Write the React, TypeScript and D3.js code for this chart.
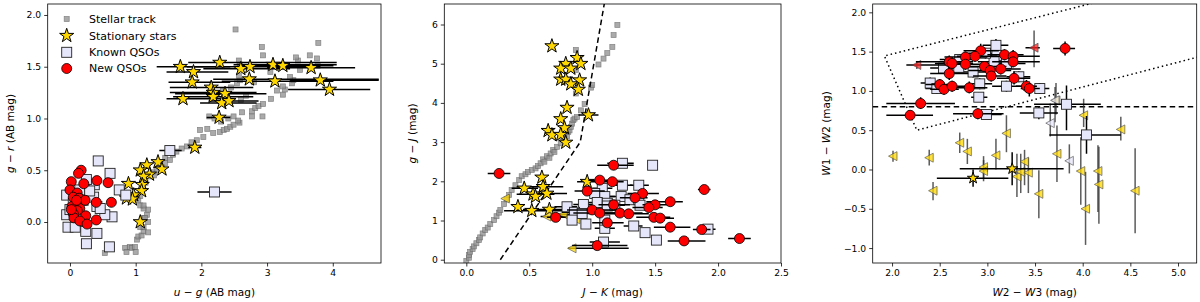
import React, { useEffect, useRef } from 'react';
import * as d3 from 'd3';

// ---- panel 1: u-g vs g-r ----
const track1 = [
  [0.53, -0.30], [0.84, -0.25], [0.86, -0.29], [0.91, -0.24], [0.94, -0.25], [0.99, -0.24], [1.0, -0.29],
  [1.02, -0.17], [1.04, -0.14], [1.09, -0.13], [1.12, -0.09], [1.19, -0.10], [1.07, -0.05], [1.12, -0.05],
  [1.19, 0.00], [1.12, 0.04], [1.17, 0.07], [1.14, 0.04], [1.19, 0.12], [1.12, 0.13], [1.07, 0.16],
  [1.04, 0.21], [1.12, 0.16], [1.07, 0.25], [1.10, 0.30], [1.15, 0.38], [1.20, 0.44], [1.26, 0.48],
  [1.28, 0.45], [1.32, 0.50], [1.35, 0.55], [1.40, 0.53], [1.45, 0.57], [1.45, 0.62], [1.52, 0.60],
  [1.57, 0.65], [1.62, 0.68], [1.70, 0.71], [1.78, 0.73], [1.85, 0.77], [1.93, 0.79], [2.03, 0.82],
  [1.98, 0.89], [2.09, 0.90], [2.18, 0.86], [2.28, 0.87], [2.34, 0.89], [2.39, 0.90], [2.44, 0.92],
  [2.49, 0.94], [2.58, 0.96], [2.56, 0.98], [2.41, 1.00], [2.12, 1.02], [2.20, 1.00], [2.30, 0.97],
  [2.49, 1.02], [2.62, 1.06], [2.77, 1.02], [2.93, 1.02], [2.77, 1.07], [2.82, 1.10], [2.87, 1.12],
  [2.94, 1.14], [2.60, 1.18], [2.68, 1.22], [3.06, 1.19], [3.24, 1.23], [3.15, 1.27], [3.27, 1.28],
  [3.24, 1.31], [2.33, 1.27], [2.45, 1.30], [2.54, 1.34], [2.59, 1.37], [2.57, 1.41], [2.80, 1.35],
  [3.38, 1.34], [3.40, 1.37], [3.35, 1.40], [3.05, 1.45], [3.50, 1.47], [3.77, 1.51], [2.59, 1.52],
  [2.57, 1.56], [3.47, 1.56], [3.44, 1.59], [3.76, 1.58], [3.65, 1.61], [2.94, 1.61], [2.92, 1.69],
  [3.78, 1.73], [2.52, 1.86],
];
const stars1 = [
  [1.68, 1.50, 1.32, 2.44], [2.28, 1.54, 1.80, 4.06], [1.88, 1.45, 1.47, 2.41], [2.60, 1.48, 2.03, 3.35],
  [2.74, 1.50, 1.78, 3.81], [3.09, 1.52, 2.49, 4.06], [3.24, 1.51, 2.59, 4.01], [3.67, 1.49, 3.00, 4.34],
  [1.86, 1.35, 1.50, 2.44], [2.73, 1.38, 2.18, 4.70], [3.12, 1.36, 2.31, 4.01], [3.81, 1.37, 3.35, 4.70],
  [3.95, 1.28, 3.32, 4.57], [2.15, 1.30, 1.52, 2.79], [2.18, 1.25, 1.52, 2.84], [2.36, 1.24, 1.60, 2.99],
  [2.18, 1.21, 1.57, 2.79], [1.72, 1.19, 1.47, 2.49], [2.31, 1.15, 1.98, 2.84], [2.42, 1.17, 2.11, 2.87],
  [2.27, 1.01, 2.08, 2.44], [1.90, 0.72, 1.80, 2.00],
  [1.34, 0.58], [1.17, 0.55], [1.07, 0.50], [1.40, 0.51], [1.21, 0.46], [1.12, 0.44], [0.89, 0.37],
  [1.10, 0.36], [1.09, 0.30], [0.97, 0.26], [0.86, 0.23], [0.95, 0.22], [1.07, 0.00],
];
const known1 = [
  [1.52, 0.69, 1.36, 1.70], [2.20, 0.29, 1.94, 2.46], [0.43, 0.59], [0.61, 0.47], [0.75, 0.31], [0.85, 0.26],
  [0.37, 0.36], [0.25, 0.41], [-0.05, 0.26], [-0.05, 0.07], [-0.03, -0.05], [0.08, -0.05], [0.24, -0.09],
  [0.25, -0.21], [0.41, -0.11], [0.60, -0.24], [0.64, 0.05], [0.53, 0.07], [0.05, 0.18], [0.10, 0.08],
  [0.36, 0.24], [0.41, 0.15], [0.15, 0.31], [0.20, 0.21], [0.46, 0.13], [0.0, 0.12], [0.30, 0.30],
];
const new1 = [
  [0.17, 0.50], [0.13, 0.47], [0.02, 0.39], [0.21, 0.37], [0.41, 0.40], [0.58, 0.38], [0.0, 0.31],
  [0.11, 0.28], [0.05, 0.24], [0.14, 0.23], [0.23, 0.21], [0.40, 0.19], [0.63, 0.19], [0.10, 0.18],
  [0.03, 0.15], [0.15, 0.13], [0.11, 0.11], [0.05, 0.08], [0.24, 0.06], [0.06, 0.04], [0.15, 0.01],
  [0.26, -0.02], [0.40, 0.02], [0.02, 0.12], [0.10, 0.21],
];

// ---- panel 2: J-K vs g-J ----
const track2 = [
  [0.0, -0.03], [0.02, 0.05], [0.02, 0.12], [0.03, 0.2], [0.05, 0.27], [0.06, 0.34], [0.08, 0.42], [0.10, 0.50],
  [0.11, 0.57], [0.13, 0.67], [0.15, 0.76], [0.17, 0.82], [0.19, 0.91], [0.22, 1.01], [0.24, 1.11], [0.26, 1.2],
  [0.27, 1.27], [0.30, 1.42], [0.32, 1.54], [0.34, 1.65], [0.36, 1.78], [0.39, 1.90], [0.42, 2.03], [0.44, 2.13],
  [0.47, 2.18], [0.49, 2.24], [0.52, 2.29], [0.55, 2.33], [0.57, 2.39], [0.59, 2.46], [0.61, 2.56], [0.62, 2.5],
  [0.64, 2.64], [0.66, 2.6], [0.67, 2.71], [0.69, 2.80], [0.70, 2.75], [0.72, 2.88], [0.75, 2.97], [0.77, 3.07],
  [0.78, 3.1], [0.80, 3.15], [0.81, 3.26], [0.82, 3.3], [0.83, 3.39], [0.84, 3.47], [0.85, 3.56], [0.86, 3.6],
  [0.88, 3.64], [0.91, 3.81], [0.94, 3.97], [0.87, 4.24], [0.99, 4.39], [1.0, 4.46], [0.87, 4.84], [1.05, 4.98],
  [1.09, 5.13], [0.87, 5.35], [1.12, 5.27], [1.16, 5.43], [1.17, 5.73], [1.20, 5.99],
];
const cut2 = [[0.27, 0], [0.905, 3.0], [1.10, 6.6]];
const stars2 = [
  [0.68, 5.45], [0.88, 5.15], [0.91, 5.00], [0.79, 5.00], [0.75, 4.88], [0.83, 4.88], [0.75, 4.60], [0.79, 4.60],
  [0.90, 4.58], [0.83, 4.48], [0.89, 4.34], [0.80, 3.88], [0.97, 3.69, 0.89, 1.05], [0.75, 3.59], [0.78, 3.36],
  [0.65, 3.29], [0.68, 3.18], [0.75, 3.19], [0.79, 2.99], [0.60, 2.10], [0.46, 1.82, 0.36, 0.57],
  [0.61, 1.86, 0.40, 0.77], [0.53, 1.67, 0.40, 0.70], [0.55, 1.61], [0.64, 1.69, 0.50, 0.80], [0.41, 1.35],
  [0.52, 1.25, 0.30, 0.96], [0.66, 1.28, 0.45, 0.90], [0.96, 1.99, 0.88, 1.06],
];
const lims2 = [[0.31, 1.56], [0.64, 1.10, 0.59, 0.96], [0.77, 1.16, 0.70, 0.90], [0.87, 1.03], [0.84, 0.29, 0.81, 1.29]];
const known2 = [
  [1.24, 2.46, 1.12, 1.33], [1.48, 2.41], [1.24, 1.90, 1.15, 1.32], [1.37, 1.90, 1.30, 1.45], [1.08, 1.82, 1.00, 1.16],
  [1.02, 1.69, 0.95, 1.10], [1.10, 1.61, 1.02, 1.18], [0.93, 1.41, 0.85, 1.02], [1.04, 1.46, 0.96, 1.12],
  [1.12, 1.44, 1.02, 1.22], [1.23, 1.61, 1.14, 1.32], [1.30, 1.53, 1.22, 1.40], [1.37, 1.53], [0.80, 1.35, 0.70, 0.88],
  [0.86, 1.21, 0.76, 0.95], [0.92, 1.18, 0.84, 1.00], [0.84, 1.01], [0.95, 0.91], [1.10, 0.80, 1.02, 1.18],
  [1.10, 1.01], [1.12, 1.37], [1.18, 1.39, 1.10, 1.26], [1.38, 1.39], [1.33, 0.86, 1.25, 1.40], [1.42, 0.69],
  [1.51, 0.50], [1.09, 0.45, 0.98, 1.22], [1.92, 0.78, 1.85, 1.98],
];
const new2 = [
  [0.26, 2.20, 0.17, 0.35], [1.17, 2.41, 1.04, 1.33], [1.06, 2.03, 0.97, 1.15], [1.16, 1.99, 1.08, 1.25],
  [0.96, 1.75, 0.86, 1.10], [1.89, 1.79, 1.84, 1.94], [1.40, 1.69, 1.28, 1.53], [1.34, 1.58, 1.22, 1.44],
  [1.62, 1.48, 1.43, 1.72], [1.17, 1.40, 1.05, 1.30], [1.50, 1.40, 1.40, 1.60], [1.45, 1.33, 1.32, 1.56],
  [1.00, 1.27, 0.80, 1.25], [1.06, 1.19, 0.85, 1.32], [1.22, 1.19, 1.05, 1.40], [1.29, 1.17, 1.10, 1.45],
  [1.49, 1.08, 1.35, 1.62], [1.54, 1.06, 1.45, 1.65], [0.71, 1.08, 0.64, 0.79], [1.12, 0.94, 1.00, 1.25],
  [1.62, 0.83, 1.49, 1.78], [1.87, 0.77, 1.80, 1.94], [2.17, 0.54, 2.08, 2.26], [1.73, 0.48, 1.60, 1.90],
  [1.04, 0.36, 0.84, 1.28],
];

// ---- panel 3: W2-W3 vs W1-W2 ----
const agnCut3 = 0.8;
const wedge3 = [[4.7, 2.30], [1.92, 1.445], [2.26, 0.50], [5.3, 1.46]];
const new3 = [
  [3.815, 1.54, 3.69, 3.92, 1.45, 1.63], [2.93, 1.51, 2.75, 3.12, 1.44, 1.60], [2.77, 1.43, 2.55, 3.00, 1.36, 1.50],
  [2.87, 1.44, 2.68, 3.10, 1.37, 1.52], [3.18, 1.46, 3.00, 3.38, 1.39, 1.53], [3.27, 1.44, 3.05, 3.55, 1.36, 1.52],
  [3.27, 1.37, 3.05, 3.55, 1.30, 1.44], [2.60, 1.37, 2.25, 2.85, 1.30, 1.45], [2.63, 1.35, 2.45, 2.85, 1.27, 1.43],
  [2.77, 1.34, 2.55, 3.00, 1.27, 1.42], [2.97, 1.31, 2.75, 3.20, 1.24, 1.38], [3.03, 1.26, 2.80, 3.25, 1.18, 1.33],
  [3.14, 1.28, 2.95, 3.35, 1.21, 1.36], [3.04, 1.19, 2.85, 3.20, 1.12, 1.26], [2.60, 1.22, 2.40, 2.80, 1.14, 1.30],
  [3.28, 1.16, 3.10, 3.45, 1.08, 1.25], [2.50, 1.08, 2.35, 2.65, 1.01, 1.15], [2.545, 1.02, 2.40, 2.70, 0.95, 1.10],
  [2.63, 1.06, 2.45, 2.82, 0.99, 1.13], [2.81, 1.04, 2.60, 3.00, 0.97, 1.12], [3.41, 1.06, 3.30, 3.52, 0.98, 1.14],
  [3.44, 1.03, 3.35, 3.55, 0.93, 1.12], [2.30, 0.84, 1.94, 2.66, 0.77, 0.92], [2.19, 0.69, 1.94, 2.43, 0.63, 0.75],
  [2.90, 0.71, 2.64, 3.17, 0.64, 0.78],
];
const known3 = [
  [3.09, 1.58, 2.95, 3.22, 1.51, 1.66], [3.10, 1.45, 2.90, 3.30, 1.38, 1.52], [2.71, 1.40, 2.50, 2.90, 1.33, 1.47],
  [2.54, 1.29, 2.40, 2.70, 1.22, 1.36], [2.70, 1.30, 2.50, 2.85, 1.23, 1.37], [2.85, 1.24, 2.65, 3.05, 1.17, 1.31],
  [3.07, 1.37, 2.90, 3.25, 1.30, 1.44], [3.20, 1.35, 3.00, 3.40, 1.28, 1.42], [2.98, 1.48, 2.80, 3.15, 1.41, 1.55],
  [3.33, 1.18, 3.20, 3.45, 1.11, 1.25], [2.40, 1.10, 2.30, 2.55, 1.03, 1.17], [2.47, 1.03, 2.35, 2.60, 0.96, 1.10],
  [2.92, 1.09, 2.80, 3.05, 1.02, 1.16], [3.20, 1.06, 3.05, 3.35, 0.99, 1.13], [3.55, 1.03, 3.45, 3.65, 0.96, 1.10],
  [2.91, 0.92, 2.83, 3.00, 0.86, 0.98], [3.83, 0.83, 3.49, 4.19, 0.50, 1.07], [3.54, 0.72, 3.34, 3.74, 0.64, 0.80],
  [2.99, 0.70, 2.85, 3.15, 0.65, 0.75], [4.04, 0.44, 3.65, 4.40, 0.20, 0.68],
];
const stars3 = [[2.85, -0.11, 2.47, 3.22, -0.22, 0.00], [3.26, 0.01, 2.71, 3.80, -0.20, 0.22]];
const limYellow3 = [
  [2.01, 0.17, 0.10, 0.24], [2.39, 0.15, 0.05, 0.25], [2.43, -0.27, -0.39, -0.16], [2.71, 0.34, 0.21, 0.47],
  [2.79, 0.23, 0.07, 0.39], [2.96, 0.03, -0.12, 0.17], [2.96, -0.02, -0.15, 0.12], [3.09, 0.18, 0.00, 0.39],
  [3.20, 0.46, 0.22, 0.69], [3.31, -0.09, -0.35, 0.20], [3.35, -0.03, -0.30, 0.20], [3.39, 0.10, -0.20, 0.25],
  [3.43, -0.04, -0.30, 0.15], [3.54, -0.31, -0.62, -0.01], [3.73, 0.20, -0.16, 0.56], [4.01, 0.69, 0.54, 0.90],
  [3.98, -0.02, -0.45, 0.41], [4.03, -0.50, -0.96, -0.03], [4.16, -0.02, -0.54, 0.31], [4.17, -0.19, -0.69, 0.29],
  [4.40, 0.51, 0.37, 0.67], [4.55, -0.27, -0.81, 0.27], [3.72, 0.88, 0.70, 1.10],
];
const limLav3 = [[3.71, 0.88, 0.60, 1.05], [3.66, 0.59, 0.42, 0.84], [3.86, 0.11, -0.05, 0.32]];
const limRed3 = [[2.26, 1.33, 2.15, 2.59, 1.28, 1.38], [3.49, 1.55, 3.40, 3.55, 1.30, 1.77]];

const legendLabels = ['Stellar track', 'Stationary stars', 'Known QSOs', 'New QSOs'];

const FONT = 'DejaVu Sans, sans-serif';
const GOLD = '#ffd700';
const LAV = '#e6e6fa';

function makePanel(svg, id, box, xDom, yDom, xTicks, yTicks, xFmt, yFmt) {
  const x = d3.scaleLinear().domain(xDom).range([box.l, box.r]);
  const y = d3.scaleLinear().domain(yDom).range([box.b, box.t]);
  svg.append('clipPath').attr('id', id).append('rect')
    .attr('x', box.l).attr('y', box.t).attr('width', box.r - box.l).attr('height', box.b - box.t);
  const g = svg.append('g').attr('clip-path', `url(#${id})`);
  const finish = () => {
    const ax = svg.append('g').attr('transform', `translate(0,${box.b})`)
      .call(d3.axisBottom(x).tickValues(xTicks).tickFormat(d3.format(xFmt)).tickSize(3.5).tickPadding(3));
    const ay = svg.append('g').attr('transform', `translate(${box.l},0)`)
      .call(d3.axisLeft(y).tickValues(yTicks).tickFormat(d3.format(yFmt)).tickSize(3.5).tickPadding(3));
    [ax, ay].forEach(a => {
      a.select('.domain').remove();
      a.selectAll('text').attr('font-family', FONT).attr('font-size', 9.2).attr('fill', '#000');
      a.selectAll('line').attr('stroke', '#000').attr('stroke-width', 0.8);
    });
    svg.append('rect').attr('x', box.l).attr('y', box.t).attr('width', box.r - box.l).attr('height', box.b - box.t)
      .attr('fill', 'none').attr('stroke', '#000').attr('stroke-width', 0.8);
  };
  return { x, y, g, finish };
}

function xErr(g, data, x, y, color = '#000', w = 1.5) {
  g.selectAll(null).data(data.filter(d => d.length > 2)).enter().append('line')
    .attr('x1', d => x(d[2])).attr('x2', d => x(d[3])).attr('y1', d => y(d[1])).attr('y2', d => y(d[1]))
    .attr('stroke', color).attr('stroke-width', w);
}
function yErr(g, data, x, y, lo, hi, color = '#000', w = 1.5, op = 1) {
  g.selectAll(null).data(data).enter().append('line')
    .attr('x1', d => x(d[0])).attr('x2', d => x(d[0])).attr('y1', d => y(d[lo])).attr('y2', d => y(d[hi]))
    .attr('stroke', color).attr('stroke-width', w).attr('opacity', op);
}
function track(g, data, x, y) {
  g.selectAll(null).data(data).enter().append('rect')
    .attr('x', d => x(d[0]) - 2.5).attr('y', d => y(d[1]) - 2.5).attr('width', 5).attr('height', 5)
    .attr('fill', '#959595').attr('stroke', '#666').attr('stroke-width', 0.7).attr('opacity', 0.8);
}
const starPath = d3.symbol(d3.symbolStar, 62)();
function stars(g, data, x, y, size = starPath) {
  g.selectAll(null).data(data).enter().append('path').attr('d', size)
    .attr('transform', d => `translate(${x(d[0])},${y(d[1])})`)
    .attr('fill', GOLD).attr('stroke', '#000').attr('stroke-width', 1).attr('stroke-linejoin', 'miter');
}
function squares(g, data, x, y) {
  g.selectAll(null).data(data).enter().append('rect')
    .attr('x', d => x(d[0]) - 5).attr('y', d => y(d[1]) - 5).attr('width', 10).attr('height', 10)
    .attr('fill', LAV).attr('stroke', '#222').attr('stroke-width', 0.9);
}
function circles(g, data, x, y) {
  g.selectAll(null).data(data).enter().append('circle')
    .attr('cx', d => x(d[0])).attr('cy', d => y(d[1])).attr('r', 5)
    .attr('fill', 'red').attr('stroke', '#000').attr('stroke-width', 0.8);
}
function tris(g, data, x, y, fill) {
  g.selectAll(null).data(data).enter().append('path')
    .attr('d', 'M-4.5,0L4,-4.5L4,4.5Z')
    .attr('transform', d => `translate(${x(d[0])},${y(d[1])})`)
    .attr('fill', fill).attr('fill-opacity', 0.75).attr('stroke', '#444').attr('stroke-width', 0.6);
}

function axisLabel(svg, parts, tx, ty, rotate) {
  const t = svg.append('text').attr('font-family', FONT).attr('font-size', 10.5).attr('text-anchor', 'middle')
    .attr('transform', `translate(${tx},${ty})${rotate ? ' rotate(-90)' : ''}`);
  parts.forEach(([s, it]) => t.append('tspan').text(s).attr('font-style', it ? 'italic' : 'normal'));
}

export default function App() {
  const ref = useRef(null);
  useEffect(() => {
    const svg = d3.select(ref.current);
    svg.selectAll('*').remove();

    // panel 1
    const b1 = { l: 47.7, r: 381, t: 4, b: 263 };
    const p1 = makePanel(svg, 'c1', b1, [-0.339, 4.734], [-0.396, 2.106], [0, 1, 2, 3, 4], [0, 0.5, 1, 1.5, 2], 'd', '.1f');
    track(p1.g, track1, p1.x, p1.y);
    xErr(p1.g, stars1, p1.x, p1.y);
    stars(p1.g, stars1, p1.x, p1.y);
    xErr(p1.g, known1, p1.x, p1.y);
    squares(p1.g, known1, p1.x, p1.y);
    circles(p1.g, new1, p1.x, p1.y);
    p1.finish();
    axisLabel(svg, [['u', true], [' − ', false], ['g', true], [' (AB mag)', false]], (b1.l + b1.r) / 2, 296);
    axisLabel(svg, [['g', true], [' − ', false], ['r', true], [' (AB mag)', false]], 14, (b1.t + b1.b) / 2, true);

    // legend
    const lg = svg.append('g');
    const ly = [19, 35.7, 52.3, 68.5];
    const lx = 66.7;
    lg.append('rect').attr('x', lx - 2.5).attr('y', ly[0] - 2.5).attr('width', 5).attr('height', 5)
      .attr('fill', '#959595').attr('stroke', '#666').attr('stroke-width', 0.7).attr('opacity', 0.8);
    lg.append('path').attr('d', starPath).attr('transform', `translate(${lx},${ly[1]})`)
      .attr('fill', GOLD).attr('stroke', '#000').attr('stroke-width', 1);
    lg.append('rect').attr('x', lx - 5).attr('y', ly[2] - 5).attr('width', 10).attr('height', 10)
      .attr('fill', LAV).attr('stroke', '#222').attr('stroke-width', 0.9);
    lg.append('circle').attr('cx', lx).attr('cy', ly[3]).attr('r', 5)
      .attr('fill', 'red').attr('stroke', '#000').attr('stroke-width', 0.8);
    legendLabels.forEach((s, i) => {
      lg.append('text').attr('x', 89).attr('y', ly[i]).attr('dy', '0.36em').attr('font-family', FONT)
        .attr('font-size', 11).text(s);
    });

    // panel 2
    const b2 = { l: 444.3, r: 781, t: 4, b: 263 };
    const p2 = makePanel(svg, 'c2', b2, [-0.175, 2.5], [-0.084, 6.523], [0, 0.5, 1, 1.5, 2, 2.5], [0, 1, 2, 3, 4, 5, 6], '.1f', 'd');
    track(p2.g, track2, p2.x, p2.y);
    p2.g.append('path').attr('d', d3.line().x(d => p2.x(d[0])).y(d => p2.y(d[1]))(cut2))
      .attr('fill', 'none').attr('stroke', '#000').attr('stroke-width', 1.5).attr('stroke-dasharray', '5.5,3.5');
    xErr(p2.g, stars2, p2.x, p2.y);
    stars(p2.g, stars2, p2.x, p2.y);
    xErr(p2.g, lims2, p2.x, p2.y);
    tris(p2.g, lims2, p2.x, p2.y, GOLD);
    xErr(p2.g, known2, p2.x, p2.y);
    squares(p2.g, known2, p2.x, p2.y);
    xErr(p2.g, new2, p2.x, p2.y);
    circles(p2.g, new2, p2.x, p2.y);
    p2.finish();
    axisLabel(svg, [['J', true], [' − ', false], ['K', true], [' (mag)', false]], (b2.l + b2.r) / 2, 296);
    axisLabel(svg, [['g', true], [' − ', false], ['J', true], [' (mag)', false]], 416, (b2.t + b2.b) / 2, true);

    // panel 3
    const b3 = { l: 872.7, r: 1196.7, t: 4, b: 263 };
    const p3 = makePanel(svg, 'c3', b3, [1.797, 5.196], [-1.19, 2.106], [2, 2.5, 3, 3.5, 4, 4.5, 5], [-1, -0.5, 0, 0.5, 1, 1.5, 2], '.1f', '.1f');
    p3.g.append('line').attr('x1', b3.l).attr('x2', b3.r).attr('y1', p3.y(agnCut3)).attr('y2', p3.y(agnCut3))
      .attr('stroke', '#000').attr('stroke-width', 1.5).attr('stroke-dasharray', '5.5,3.5');
    p3.g.append('path').attr('d', d3.line().x(d => p3.x(d[0])).y(d => p3.y(d[1]))(wedge3))
      .attr('fill', 'none').attr('stroke', '#000').attr('stroke-width', 1.5).attr('stroke-dasharray', '1.5,3')
      .attr('stroke-linecap', 'butt');
    yErr(p3.g, limYellow3, p3.x, p3.y, 2, 3, '#333', 1.5, 0.8);
    tris(p3.g, limYellow3, p3.x, p3.y, GOLD);
    yErr(p3.g, limLav3, p3.x, p3.y, 2, 3, '#333', 1.5, 0.8);
    tris(p3.g, limLav3, p3.x, p3.y, LAV);
    xErr(p3.g, stars3, p3.x, p3.y);
    yErr(p3.g, stars3, p3.x, p3.y, 4, 5);
    stars(p3.g, stars3, p3.x, p3.y, d3.symbol(d3.symbolStar, 40)());
    xErr(p3.g, known3, p3.x, p3.y);
    yErr(p3.g, known3, p3.x, p3.y, 4, 5);
    squares(p3.g, known3, p3.x, p3.y);
    xErr(p3.g, limRed3, p3.x, p3.y);
    yErr(p3.g, limRed3, p3.x, p3.y, 4, 5, '#333', 1.5, 0.8);
    tris(p3.g, limRed3, p3.x, p3.y, '#ff2020');
    xErr(p3.g, new3, p3.x, p3.y);
    yErr(p3.g, new3, p3.x, p3.y, 4, 5);
    circles(p3.g, new3, p3.x, p3.y);
    p3.finish();
    axisLabel(svg, [['W', true], ['2 − ', false], ['W', true], ['3 (mag)', false]], (b3.l + b3.r) / 2, 296);
    axisLabel(svg, [['W', true], ['1 − ', false], ['W', true], ['2 (mag)', false]], 830, (b3.t + b3.b) / 2, true);
  }, []);

  return (
    <svg ref={ref} width={1200} height={302} style={{ position: 'absolute', left: 0, top: 0, background: '#fff' }} />
  );
}
